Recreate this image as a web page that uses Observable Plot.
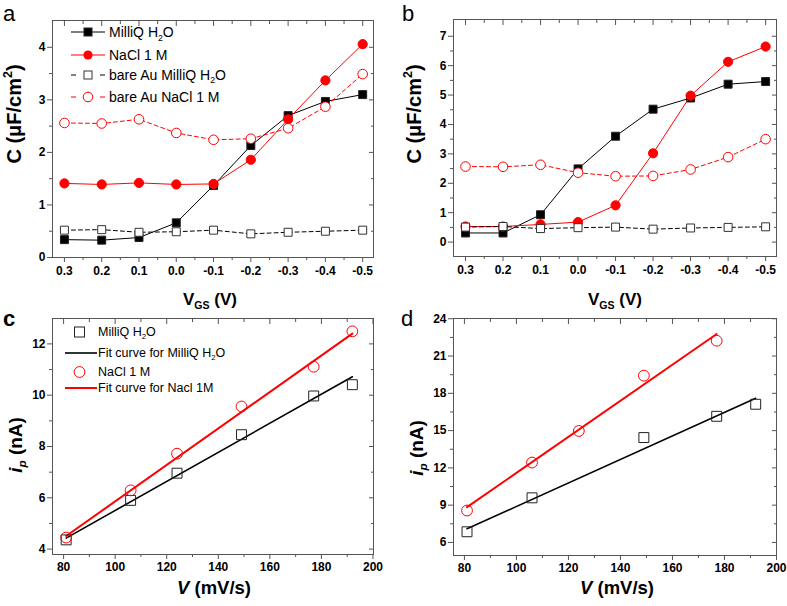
<!DOCTYPE html>
<html><head><meta charset="utf-8">
<script src="https://cdn.jsdelivr.net/npm/d3@7"></script>
<script src="https://cdn.jsdelivr.net/npm/@observablehq/plot@0.6"></script>
<style>
body{margin:0;background:#fff;}
#fig{position:relative;width:787px;height:606px;overflow:hidden;font-family:"Liberation Sans",Arial,sans-serif;color:#000;background:#fff;}
.panel{position:absolute;}
.lbl{position:absolute;white-space:nowrap;font-weight:bold;line-height:1;}
.ylbl{transform:translate(-50%,-50%) rotate(-90deg);}
.xlbl{transform:translateX(-50%);}
.lbl sup,.lbl sub,.leg sub{font-size:0.62em;line-height:0;position:relative;vertical-align:baseline;}
.lbl sup{top:-0.72em;}
.lbl sub,.leg sub{top:0.38em;}
.letter{position:absolute;font-size:22px;line-height:1;}
.leg{position:absolute;display:flex;align-items:center;white-space:nowrap;line-height:1;}
.leg svg{flex:none;}
</style></head><body><div id="fig"></div>
<script>
// ---------- data ----------
const vgs = [0.3, 0.2, 0.1, 0.0, -0.1, -0.2, -0.3, -0.4, -0.5];
const vgsMinor = [0.25, 0.15, 0.05, -0.05, -0.15, -0.25, -0.35, -0.45];

// panel a
const milliA = [0.34, 0.33, 0.38, 0.66, 1.37, 2.13, 2.70, 2.97, 3.10];
const naclA = [1.41, 1.39, 1.42, 1.39, 1.40, 1.86, 2.63, 3.37, 4.06];
const bareMilliA = [0.52, 0.53, 0.48, 0.49, 0.52, 0.45, 0.48, 0.50, 0.52];
const bareNaclA = [2.56, 2.55, 2.63, 2.37, 2.24, 2.26, 2.46, 2.87, 3.49];
const yTicksA = [0, 1, 2, 3, 4];
const yMinorA = [0.5, 1.5, 2.5, 3.5];

// panel b
const milliB = [0.31, 0.31, 0.93, 2.49, 3.60, 4.52, 4.90, 5.37, 5.46];
const naclB = [0.53, 0.53, 0.60, 0.68, 1.25, 3.02, 4.98, 6.13, 6.65];
const bareMilliB = [0.51, 0.53, 0.46, 0.49, 0.51, 0.44, 0.48, 0.50, 0.52];
const bareNaclB = [2.57, 2.56, 2.63, 2.36, 2.24, 2.25, 2.47, 2.89, 3.50];
const yTicksB = [0, 1, 2, 3, 4, 5, 6, 7];
const yMinorB = [0.5, 1.5, 2.5, 3.5, 4.5, 5.5, 6.5];

// panel c
const rateC = [81, 106, 124, 149, 177, 192];
const milliC = [4.36, 5.90, 6.96, 8.46, 9.97, 10.41];
const naclC = [4.45, 6.29, 7.72, 9.56, 11.11, 12.49];
const fitRateC = [81, 192];
const fitMilliC = [4.43, 10.72];
const fitNaclC = [4.51, 12.40];
const yTicksC = [4, 6, 8, 10, 12];
const yMinorC = [5, 7, 9, 11];

// panel d
const rateMilliD = [81, 106, 149, 177, 192];
const milliD = [6.86, 9.59, 14.44, 16.15, 17.12];
const rateNaclD = [81, 106, 124, 149, 177];
const naclD = [8.57, 12.43, 14.97, 19.42, 22.23];
const fitRateMilliD = [81, 192];
const fitMilliD = [7.10, 17.60];
const fitRateNaclD = [81, 177];
const fitNaclD = [8.84, 22.77];
const yTicksD = [6, 9, 12, 15, 18, 21, 24];
const yMinorD = [7.5, 10.5, 13.5, 16.5, 19.5, 22.5];

const rateTicks = [80, 100, 120, 140, 160, 180, 200];
const rateMinor = [90, 110, 130, 150, 170, 190];

// ---------- helpers ----------
const FONT = '"Liberation Sans", Arial, sans-serif';
const AX = "#555";
const RED = "#ff0000";
const fig = document.getElementById("fig");

function axes({xTicks, xMinor, yTicks, yMinor, xFmt, yFmt, padX = 4, padY = 2}) {
  return [
    Plot.frame({stroke: AX, strokeWidth: 1}),
    Plot.axisX({anchor: "bottom", ticks: xTicks, tickSize: 5, tickPadding: padX, tickFormat: xFmt, label: null, stroke: AX, fill: "black"}),
    Plot.axisX({anchor: "bottom", ticks: xMinor, tickSize: 3, label: null, stroke: AX, fill: "none"}),
    Plot.axisX({anchor: "top", ticks: xTicks, tickSize: 5, dy: 5, label: null, stroke: AX, fill: "none"}),
    Plot.axisX({anchor: "top", ticks: xMinor, tickSize: 3, dy: 3, label: null, stroke: AX, fill: "none"}),
    Plot.axisY({anchor: "left", ticks: yTicks, tickSize: 5, tickPadding: padY, tickFormat: yFmt, label: null, stroke: AX, fill: "black"}),
    Plot.axisY({anchor: "left", ticks: yMinor, tickSize: 3, label: null, stroke: AX, fill: "none"}),
    Plot.axisY({anchor: "right", ticks: yTicks, tickSize: 5, dx: -5, label: null, stroke: AX, fill: "none"}),
    Plot.axisY({anchor: "right", ticks: yMinor, tickSize: 3, dx: -3, label: null, stroke: AX, fill: "none"})
  ];
}

function place(svg, left, top) {
  const d = document.createElement("div");
  d.className = "panel";
  d.style.left = left + "px";
  d.style.top = top + "px";
  d.appendChild(svg);
  fig.appendChild(d);
}

function text(html, cls, css) {
  const d = document.createElement("div");
  d.className = cls;
  d.innerHTML = html;
  Object.assign(d.style, css);
  fig.appendChild(d);
  return d;
}

const style = {fontFamily: FONT, fontSize: "12px", fontWeight: "bold", color: "black", background: "transparent", overflow: "visible"};

function capPanel(milli, nacl, bareMilli, bareNacl, opts) {
  const rows = vgs.map((v, i) => ({v, milli: milli[i], nacl: nacl[i], bareMilli: bareMilli[i], bareNacl: bareNacl[i]}));
  return Plot.plot({
    ...opts.size,
    style,
    x: {domain: [0.332, -0.529]},
    y: {domain: opts.yDomain},
    marks: [
      ...axes({xTicks: vgs, xMinor: vgsMinor, yTicks: opts.yTicks, yMinor: opts.yMinor, xFmt: d => d.toFixed(1), yFmt: d => String(d), padX: 4, padY: 2}),
      Plot.line(rows, {x: "v", y: "milli", stroke: "black", strokeWidth: 1}),
      Plot.dot(rows, {x: "v", y: "milli", symbol: "square", r: 4.5, fill: "black", stroke: "#222", strokeWidth: 1}),
      Plot.line(rows, {x: "v", y: "nacl", stroke: RED, strokeWidth: 1}),
      Plot.dot(rows, {x: "v", y: "nacl", symbol: "circle", r: 4.6, fill: RED, stroke: RED, strokeWidth: 1}),
      Plot.line(rows, {x: "v", y: "bareMilli", stroke: "black", strokeWidth: 1, strokeDasharray: "4,3"}),
      Plot.dot(rows, {x: "v", y: "bareMilli", symbol: "square", r: 4.5, fill: "white", stroke: "#333", strokeWidth: 1}),
      Plot.line(rows, {x: "v", y: "bareNacl", stroke: RED, strokeWidth: 1, strokeDasharray: "4,3"}),
      Plot.dot(rows, {x: "v", y: "bareNacl", symbol: "circle", r: 4.8, fill: "white", stroke: RED, strokeWidth: 1})
    ]
  });
}

// ---------- panel a ----------
place(capPanel(milliA, naclA, bareMilliA, bareNaclA, {
  size: {width: 393, height: 300, marginLeft: 52, marginRight: 20, marginTop: 20, marginBottom: 43},
  yDomain: [0, 4.51], yTicks: yTicksA, yMinor: yMinorA
}), 0, 0);

// ---------- panel b ----------
place(capPanel(milliB, naclB, bareMilliB, bareNaclB, {
  size: {width: 387, height: 300, marginLeft: 53, marginRight: 11, marginTop: 19, marginBottom: 44},
  yDomain: [-0.49, 7.57], yTicks: yTicksB, yMinor: yMinorB
}), 400, 0);

// ---------- panel c ----------
{
  const pts = rateC.map((r, i) => ({r, milli: milliC[i], nacl: naclC[i]}));
  const fits = fitRateC.map((r, i) => ({r, milli: fitMilliC[i], nacl: fitNaclC[i]}));
  place(Plot.plot({
    width: 393, height: 306, marginLeft: 52, marginRight: 20, marginTop: 18, marginBottom: 52,
    style,
    x: {domain: [75.7, 200.2]},
    y: {domain: [3.79, 12.99]},
    marks: [
      ...axes({xTicks: rateTicks, xMinor: rateMinor, yTicks: yTicksC, yMinor: yMinorC, xFmt: d => String(d), yFmt: d => String(d), padX: 3, padY: 2}),
      Plot.line(fits, {x: "r", y: "milli", stroke: "black", strokeWidth: 1.6}),
      Plot.line(fits, {x: "r", y: "nacl", stroke: RED, strokeWidth: 2}),
      Plot.dot(pts, {x: "r", y: "milli", symbol: "square", r: 5.6, fill: "none", stroke: "#222", strokeWidth: 1}),
      Plot.dot(pts, {x: "r", y: "nacl", symbol: "circle", r: 5.4, fill: "none", stroke: RED, strokeWidth: 1})
    ]
  }), 0, 300);
}

// ---------- panel d ----------
{
  const ptsM = rateMilliD.map((r, i) => ({r, y: milliD[i]}));
  const ptsN = rateNaclD.map((r, i) => ({r, y: naclD[i]}));
  const fitM = fitRateMilliD.map((r, i) => ({r, y: fitMilliD[i]}));
  const fitN = fitRateNaclD.map((r, i) => ({r, y: fitNaclD[i]}));
  place(Plot.plot({
    width: 387, height: 306, marginLeft: 53, marginRight: 11, marginTop: 18, marginBottom: 51,
    style,
    x: {domain: [75.8, 200]},
    y: {domain: [4.95, 24.02]},
    marks: [
      ...axes({xTicks: rateTicks, xMinor: rateMinor, yTicks: yTicksD, yMinor: yMinorD, xFmt: d => String(d), yFmt: d => String(d), padX: 3, padY: 2}),
      Plot.line(fitM, {x: "r", y: "y", stroke: "black", strokeWidth: 1.6}),
      Plot.line(fitN, {x: "r", y: "y", stroke: RED, strokeWidth: 2}),
      Plot.dot(ptsM, {x: "r", y: "y", symbol: "square", r: 5.6, fill: "none", stroke: "#222", strokeWidth: 1}),
      Plot.dot(ptsN, {x: "r", y: "y", symbol: "circle", r: 5.4, fill: "none", stroke: RED, strokeWidth: 1})
    ]
  }), 400, 300);
}

// ---------- axis labels ----------
const capLabel = "C (μF/cm<sup>2</sup>)";
const vgsLabel = "V<sub>GS</sub> (V)";
const ipLabel = "<i>i</i><sub><i>p</i></sub> (nA)";
const rateLabel = "<i>V</i> (mV/s)";
text(capLabel, "lbl ylbl", {left: "14px", top: "114px", fontSize: "20px"});
text(capLabel, "lbl ylbl", {left: "414px", top: "114px", fontSize: "20px"});
text(vgsLabel, "lbl xlbl", {left: "210px", top: (305 - 0.85 * 17) + "px", fontSize: "17px"});
text(vgsLabel, "lbl xlbl", {left: "615px", top: (305 - 0.85 * 17) + "px", fontSize: "17px"});
text(ipLabel, "lbl ylbl", {left: "15px", top: "445px", fontSize: "19px"});
text(ipLabel, "lbl ylbl", {left: "416px", top: "448px", fontSize: "19px"});
text(rateLabel, "lbl xlbl", {left: "214px", top: (595 - 0.85 * 18.5) + "px", fontSize: "18.5px"});
text(rateLabel, "lbl xlbl", {left: "617px", top: (595 - 0.85 * 18.5) + "px", fontSize: "18.5px"});

// ---------- panel letters ----------
text("a", "letter", {left: "3px", top: (21.7 - 0.85 * 22) + "px"});
text("b", "letter", {left: "402px", top: (21.7 - 0.85 * 22) + "px"});
text("c", "letter", {left: "3px", top: (326.7 - 0.85 * 22) + "px", fontWeight: "bold"});
text("d", "letter", {left: "401px", top: (326.7 - 0.85 * 22) + "px"});

// ---------- legends ----------
function symbolSvg(kind, w, h) {
  const cx = w / 2, cy = h / 2;
  let s = `<svg width="${w}" height="${h}" viewBox="0 0 ${w} ${h}">`;
  const line = (stroke, sw, dashed) => dashed
    ? `<line x1="0" y1="${cy}" x2="${cx - 10}" y2="${cy}" stroke="${stroke}" stroke-width="${sw}"/><line x1="${cx + 10}" y1="${cy}" x2="${w - 4}" y2="${cy}" stroke="${stroke}" stroke-width="${sw}"/>`
    : `<line x1="0" y1="${cy}" x2="${w - 4}" y2="${cy}" stroke="${stroke}" stroke-width="${sw}"/>`;
  const mcx = (w - 4) / 2;
  if (kind === "fsq") s += line("black", 1, false) + `<rect x="${mcx - 4}" y="${cy - 4}" width="8" height="8" fill="black" stroke="#222"/>`;
  if (kind === "fci") s += line(RED, 1, false) + `<circle cx="${mcx}" cy="${cy}" r="4.6" fill="${RED}"/>`;
  if (kind === "osq") s += `<line x1="0" y1="${cy}" x2="5" y2="${cy}" stroke="black"/><line x1="${w - 9}" y1="${cy}" x2="${w - 4}" y2="${cy}" stroke="black"/><rect x="${mcx - 4}" y="${cy - 4}" width="8" height="8" fill="white" stroke="#333"/>`;
  if (kind === "oci") s += `<line x1="0" y1="${cy}" x2="5" y2="${cy}" stroke="${RED}"/><line x1="${w - 9}" y1="${cy}" x2="${w - 4}" y2="${cy}" stroke="${RED}"/><circle cx="${mcx}" cy="${cy}" r="4.8" fill="white" stroke="${RED}"/>`;
  if (kind === "sq") s += `<rect x="${mcx - 5}" y="${cy - 5}" width="10" height="10" fill="none" stroke="#222"/>`;
  if (kind === "ci") s += `<circle cx="${mcx}" cy="${cy}" r="5.4" fill="none" stroke="${RED}"/>`;
  if (kind === "bl") s += `<line x1="0" y1="${cy}" x2="${w - 1}" y2="${cy}" stroke="black" stroke-width="1.6"/>`;
  if (kind === "rl") s += `<line x1="0" y1="${cy}" x2="${w - 1}" y2="${cy}" stroke="${RED}" stroke-width="2"/>`;
  return s + "</svg>";
}

const legendA = [
  {kind: "fsq", label: "MilliQ H<sub>2</sub>O", y: 32.3},
  {kind: "fci", label: "NaCl 1 M", y: 55},
  {kind: "osq", label: "bare Au MilliQ H<sub>2</sub>O", y: 74.5},
  {kind: "oci", label: "bare Au NaCl 1 M", y: 96.7}
];
for (const e of legendA) {
  text(symbolSvg(e.kind, 38, 14) + `<span>${e.label}</span>`, "leg", {left: "71px", top: (e.y - 7) + "px", height: "14px", fontSize: "14px"});
}
const legendC = [
  {kind: "sq", label: "MilliQ H<sub>2</sub>O", y: 332.3},
  {kind: "bl", label: "Fit curve for MilliQ H<sub>2</sub>O", y: 353.3},
  {kind: "ci", label: "NaCl 1 M", y: 372.3},
  {kind: "rl", label: "Fit curve for Nacl 1M", y: 388.3}
];
for (const e of legendC) {
  text(symbolSvg(e.kind, 33, 14) + `<span>${e.label}</span>`, "leg", {left: "65px", top: (e.y - 7) + "px", height: "14px", fontSize: "12.5px"});
}
</script></body></html>
